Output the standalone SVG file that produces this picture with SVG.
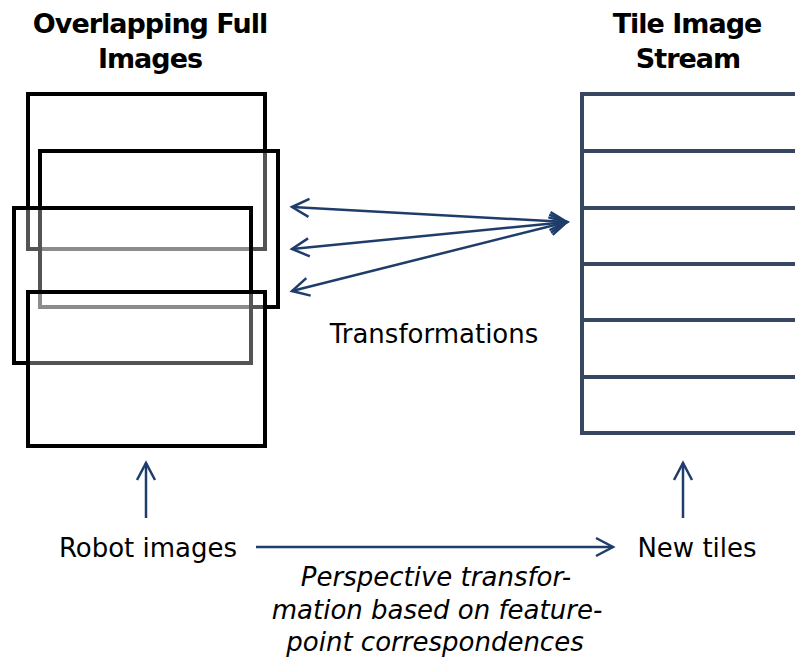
<svg xmlns="http://www.w3.org/2000/svg" width="795" height="662" viewBox="0 0 795 662">
<defs>
<style>
.title{font-family:"DejaVu Sans",Verdana,sans-serif;font-weight:bold;font-size:27px;letter-spacing:-1px;fill:#000;text-anchor:middle}
.lbl{font-family:"DejaVu Sans",Verdana,sans-serif;font-size:26px;fill:#000;text-anchor:middle}
.it{font-family:"DejaVu Sans",Verdana,sans-serif;font-style:italic;font-size:26px;fill:#000;text-anchor:middle}
.img{fill:#fff;fill-opacity:0.33;stroke:#000;stroke-width:4}
.tile{stroke:#36475f;stroke-width:4;fill:none}
.conn{stroke:#1f3d6b;stroke-width:2.5;fill:none}
</style>
<marker id="ah" markerUnits="userSpaceOnUse" viewBox="-20 -12 24 24" refX="0" refY="0" markerWidth="24" markerHeight="24" orient="auto-start-reverse">
<path d="M-17,-9 L0,0 L-17,9" fill="none" stroke="#1f3d6b" stroke-width="2.5"/>
</marker>
</defs>
<rect width="795" height="662" fill="#fff"/>
<g id="title-left">
<text class="title" x="150" y="33">Overlapping Full</text>
<text class="title" x="150" y="68">Images</text>
</g>
<g id="title-right">
<text class="title" x="687" y="33">Tile Image</text>
<text class="title" x="688" y="68">Stream</text>
</g>
<g id="overlapping-images">
<rect class="img" x="28" y="94" width="237" height="155"/>
<rect class="img" x="40" y="151" width="238" height="156"/>
<rect class="img" x="14" y="208" width="237" height="155"/>
<rect class="img" x="28" y="292" width="237" height="154"/>
</g>
<g id="tile-stream">
<path class="tile" d="M800,94 H582 V433 H800 M582,151 H800 M582,208 H800 M582,264 H800 M582,320 H800 M582,377 H800"/>
</g>
<g id="label-transformations">
<text class="lbl" x="434" y="343">Transformations</text>
</g>
<g id="label-robot">
<text class="lbl" x="148" y="557">Robot images</text>
</g>
<g id="label-newtiles">
<text class="lbl" x="697" y="557">New tiles</text>
</g>
<g id="label-perspective">
<text class="it" x="436" y="586">Perspective transfor-</text>
<text class="it" x="437" y="619">mation based on feature-</text>
<text class="it" x="435" y="651">point correspondences</text>
</g>
<g id="connectors">
<line class="conn" x1="292" y1="207" x2="567" y2="222" marker-start="url(#ah)" marker-end="url(#ah)"/>
<line class="conn" x1="292" y1="249" x2="567" y2="222" marker-start="url(#ah)" marker-end="url(#ah)"/>
<line class="conn" x1="292" y1="291" x2="567" y2="222" marker-start="url(#ah)" marker-end="url(#ah)"/>
<line class="conn" x1="146" y1="518" x2="146" y2="463" marker-end="url(#ah)"/>
<line class="conn" x1="683" y1="518" x2="683" y2="463" marker-end="url(#ah)"/>
<line class="conn" x1="256" y1="547" x2="613" y2="547" marker-end="url(#ah)"/>
</g>
</svg>
